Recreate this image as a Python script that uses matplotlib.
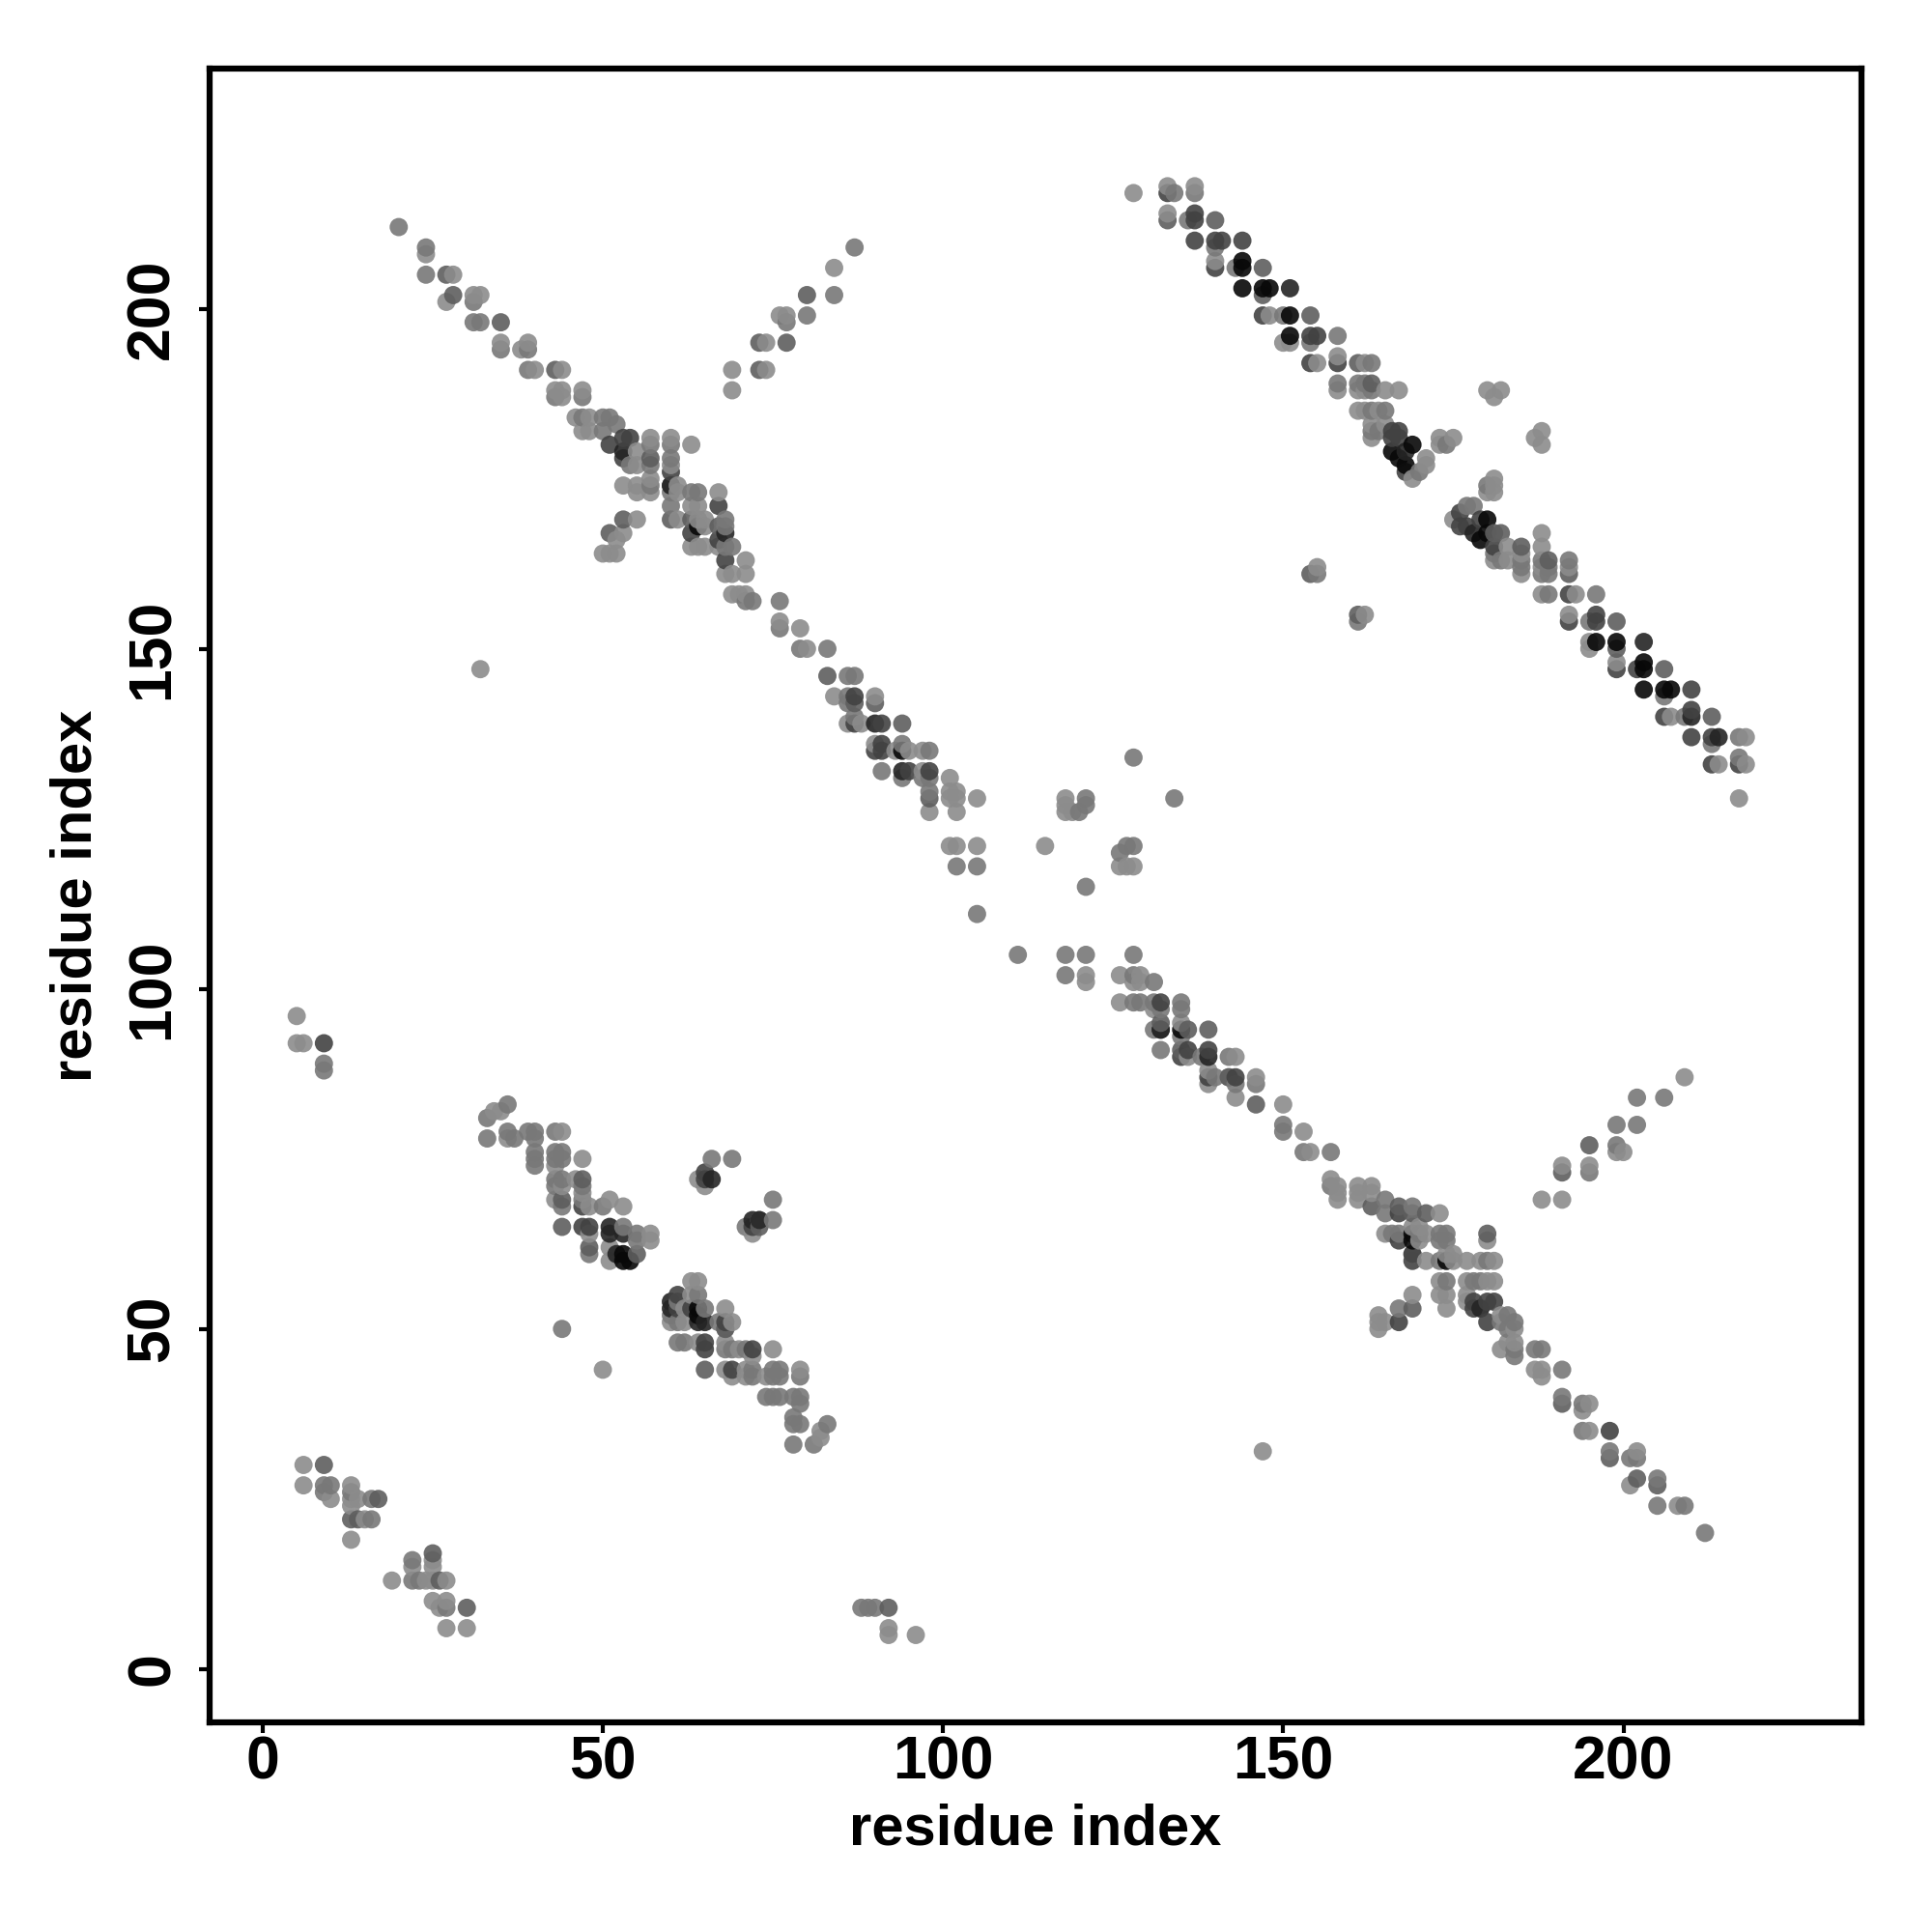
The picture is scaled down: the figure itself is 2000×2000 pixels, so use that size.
import numpy as np
import matplotlib
matplotlib.use('Agg')
import matplotlib.pyplot as plt

plt.rcParams['font.family'] = ['Liberation Sans', 'DejaVu Sans']

# contacts (i, j) grouped by how dark the dot is
light = [
    (128,217),(133,218),(137,218),(133,214),(140,207),(150,195),(151,195),(148,199),(155,192),(158,193),(162,192),
    (158,188),(161,188),(162,188),(165,188),(167,188),(161,185),(162,185),(163,183),(163,181),(165,183),(164,185),
    (171,178),(171,177),(169,175),(173,181),(173,180),(175,181),(188,182),(187,181),(188,180),(180,188),(181,187),
    (182,188),(181,175),(181,174),(181,173),(180,173),(175,169),(183,163),(183,165),(185,164),(185,161),(188,167),
    (188,165),(188,162),(192,162),(188,158),(193,158),(162,155),(192,155),(195,151),(195,150),(199,148),(207,140),
    (218,137),(214,133),(218,133),(217,128),(155,162),(181,163),
    (24,208),(28,205),(27,201),(31,202),(32,202),(35,195),(38,194),(39,195),(40,191),(44,191),(43,188),(44,188),
    (44,187),(47,188),(46,184),(48,184),(47,182),(48,182),(55,179),(55,177),(57,181),(57,175),(57,173),(60,181),
    (60,177),(61,169),(63,180),(53,174),(55,174),(55,173),(63,171),(64,171),(64,165),(65,165),(63,165),(67,173),
    (67,165),(71,163),(71,161),(69,161),(55,169),(53,167),(52,166),(50,164),(51,164),(52,164),(68,161),(69,158),
    (71,158),(70,158),(76,154),(79,153),(80,150),(84,143),(90,143),(86,139),(88,139),(90,136),(93,135),(95,135),
    (97,135),(97,132),(98,126),(101,131),(101,129),(101,128),(102,129),(102,128),(102,126),(105,128),(101,121),
    (102,121),(105,121),(115,121),(118,128),(118,127),(118,126),(119,126),(126,118),(127,118),(128,118),
    (84,206),(76,199),(77,199),(74,195),(74,191),(69,191),(69,188),
    (121,102),(121,101),(126,102),(129,102),(128,101),(129,101),(126,98),(131,97),(135,95),(136,90),(143,90),
    (139,88),(139,86),(146,87),(143,84),(150,83),(153,79),(154,76),(157,72),(158,71),(158,70),(158,69),(161,71),
    (161,70),(161,69),(163,71),(163,70),(165,64),(171,64),(173,67),(180,63),(171,60),(175,60),(177,60),(179,60),
    (181,60),(173,57),(177,57),(180,57),(181,57),(173,55),(174,55),(174,53),(169,55),(164,52),(164,51),(164,50),
    (165,51),(177,55),(177,54),(182,52),(184,50),(182,47),(183,48),(184,48),(187,44),(188,44),(188,43),(194,38),
    (195,39),(195,35),(202,32),(201,27),(208,24),(188,69),(191,69),(191,74),(195,74),(199,76),(200,76),(209,87),
    (34,82),(35,82),(36,78),(44,79),(43,74),(47,75),(46,72),(44,71),(47,70),(43,69),(48,68),(51,69),(53,68),
    (48,64),(57,64),(57,63),(51,62),(51,60),(64,72),(65,71),(72,64),(50,44),
    (63,57),(64,57),(63,55),(60,51),(62,53),(62,51),(68,53),(69,51),(64,48),(68,48),(70,47),(75,47),(72,46),
    (68,44),(71,44),(79,44),(69,43),(71,43),(74,43),(82,35),(82,34),
    (6,30),(6,27),(10,25),(13,27),(13,25),(13,24),(14,25),(15,22),(13,19),(19,13),(22,15),(24,13),(25,16),(25,15),
    (25,13),(27,13),(25,10),(26,9),(27,10),(27,6),(30,6),(6,92),(5,92),(5,96),(32,147),(147,32),(96,5),(92,5),(92,6),
    # lighter dots sitting over the dark ones in the two crossings
    (65,169),(65,168),(64,169),(61,174),(61,173),(174,61),(175,61),(170,63),(169,65),(170,65),
]
mid = [
    (134,217),(137,217),(136,213),(140,209),(143,206),(150,199),(158,196),(154,195),(163,192),(158,189),(161,189),
    (162,189),(163,188),(163,185),(165,185),(163,182),(164,182),(170,176),(177,171),(178,171),(174,180),(180,174),
    (181,164),(182,163),(185,163),(185,162),(188,163),(188,161),(189,162),(189,161),(192,163),(189,158),(196,158),
    (161,154),(195,154),(206,143),(209,140),(217,137),(213,136),(217,134),(155,161),
    (20,212),(24,209),(24,205),(31,201),(31,198),(32,198),(35,194),(39,194),(39,191),(43,187),(47,187),(47,184),
    (50,184),(51,184),(52,183),(50,182),(54,177),(57,180),(57,177),(57,174),(60,180),(60,178),(60,173),(60,171),
    (63,173),(64,173),(68,169),(68,168),(68,165),(69,165),(76,157),(76,153),(79,150),(83,150),(86,146),(87,146),
    (71,157),(72,157),(86,143),(86,142),(87,140),(91,132),(94,136),(94,131),(98,131),(97,131),(98,135),(98,129),
    (105,118),(102,118),(121,128),(121,127),(120,126),(127,121),(128,121),(126,120),(128,134),(134,128),(121,115),
    (105,111),(111,105),(118,105),(121,105),(128,105),(118,102),(128,102),(131,101),(87,209),(84,202),(80,199),(77,198),
    (128,98),(129,98),(131,98),(132,97),(135,98),(135,97),(131,94),(135,93),(132,91),(138,90),(142,90),(140,87),
    (142,87),(143,86),(146,86),(150,80),(150,79),(153,76),(157,76),(157,71),(165,69),(165,67),(166,64),(167,64),
    (169,68),(170,64),(173,64),(174,64),(173,63),(174,63),(169,61),(173,60),(180,60),(174,57),(178,57),(179,57),
    (167,53),(183,52),(184,51),(182,51),(183,50),(184,47),(184,46),(187,47),(188,47),(191,44),(191,40),(194,39),
    (194,35),(198,32),(201,31),(202,31),(205,28),(205,24),(209,24),(212,20),(195,73),(199,77),(199,80),(202,80),
    (202,84),(206,84),
    (36,83),(33,81),(33,78),(36,79),(37,78),(39,79),(40,79),(40,78),(40,76),(40,75),(40,74),(43,79),(43,76),(44,76),
    (43,75),(44,75),(43,72),(44,72),(43,71),(47,71),(44,68),(47,69),(50,68),(53,65),(55,64),(55,63),(48,61),
    (66,75),(69,75),(75,69),(75,66),(73,66),(71,65),(44,50),(64,55),(60,52),(65,53),(67,51),(68,50),(61,48),(62,48),
    (68,47),(69,47),(71,47),(72,44),(75,44),(76,44),(79,43),(72,43),(75,43),(76,43),(74,40),(75,40),(76,40),(78,40),
    (79,40),(79,39),(78,37),(78,36),(79,36),(83,36),(81,33),(78,33),(61,51),(61,54),
    (9,27),(10,27),(9,26),(13,26),(16,25),(16,22),(22,16),(22,13),(23,13),(27,9),(9,89),(9,88),(88,9),(89,9),(90,9),
]
dim = [
    (133,213),(140,213),(147,206),(147,202),(154,199),(161,192),(163,189),(181,167),(182,167),(185,165),(189,163),
    (192,161),(161,155),(199,154),(199,150),(206,147),(213,140),(154,161),
    (27,205),(28,202),(60,174),(57,178),(60,169),(63,169),(67,168),(53,169),(51,167),(83,146),(87,142),(90,142),
    (94,139),(98,128),(80,202),(77,195),(73,195),(73,191),(43,191),(35,198),
    (132,95),(136,94),(139,94),(135,91),(142,87),(146,83),(163,68),(167,68),(171,67),(169,67),(180,64),(169,53),
    (191,73),(191,39),(198,31),(205,27),(202,28),(195,77),
    (47,72),(44,69),(44,65),(48,62),(55,61),(73,65),(65,44),(68,50),(30,9),(26,13),(17,25),(9,30),(25,17),(14,22),(13,22),
    (92,9),
]
dark = [
    (133,217),(137,214),(137,213),(137,210),(140,210),(141,210),(144,210),(140,206),(147,199),(154,196),(155,196),
    (154,192),(158,192),(166,182),(167,182),(166,181),(167,181),(168,176),(176,170),(176,168),(177,168),(179,169),
    (181,165),(192,154),(192,158),(196,155),(196,154),(199,147),(202,147),(210,141),(206,140),(210,137),(213,137),
    (213,133),(217,133),(210,144),
    (51,180),(53,181),(54,181),(53,178),(60,176),(63,167),(67,171),(67,166),(68,163),(91,139),(91,136),(90,135),
    (91,135),(95,132),(98,132),(87,143),(87,139),(132,98),(132,94),(136,91),(135,90),(139,91),(139,87),(143,87),
    (198,35),(167,67),(167,63),(178,54),(178,53),(180,54),(181,54),(180,51),(167,51),(169,60),(47,68),(47,65),(48,65),
    (65,73),(65,72),(72,65),(61,55),(61,53),(63,53),(65,48),(65,47),(68,51),(69,44),(72,47),(9,92),(169,61),
]
very_dark = [
    (151,203),(203,151),(214,137),(210,140),(168,179),(178,167),(53,179),(60,174),(68,167),(90,139),(94,132),(132,94),
    (139,90),(179,53),(51,65),(51,64),(52,61),(66,72),(72,66),(60,54),(60,53),(64,51),(65,51),(53,64),(73,66),
]
black = [
    (144,207),(144,206),(144,203),(147,203),(148,203),(151,199),(151,196),(166,179),(167,178),(168,177),(169,180),
    (180,169),(179,166),(180,167),(196,151),(199,151),(203,148),(203,147),(203,144),(206,144),(207,144),
    (64,168),(94,135),(135,94),(169,64),(169,63),(174,60),(53,61),(53,60),(54,60),(64,53),(64,52),
]

groups = [light, mid, dim, dark, very_dark, black]
shades = [0.55, 0.47, 0.37, 0.26, 0.14, 0.03]

xs, ys, gs = [], [], []
for pts, g in zip(groups, shades):
    for p in pts:
        xs.append(p[0])
        ys.append(p[1])
        gs.append(g)
xs = np.array(xs)
ys = np.array(ys)
gs = np.array(gs)

# loop order of the contact table: later residues are painted on top
order = np.lexsort((ys, xs))
colors = [(g, g, g, 0.9) for g in gs[order]]

ticks = [0, 50, 100, 150, 200]

fig = plt.figure(figsize=(20, 20), dpi=100)
ax = fig.add_axes([0.1085, 0.1085, 0.855, 0.856])
ax.scatter(xs[order], ys[order], s=185, c=colors, linewidths=0)
ax.set_xlim(-7.8, 235.0)
ax.set_ylim(-7.85, 235.3)
ax.set_xticks(ticks)
ax.set_yticks(ticks)
ax.tick_params(axis='x', length=8, width=3, labelsize=45, pad=1)
ax.tick_params(axis='y', length=8, width=3, labelsize=45, pad=13)
for lab in ax.get_xticklabels():
    lab.set_fontweight('bold')
for lab in ax.get_yticklabels():
    lab.set_fontweight('bold')
    lab.set_rotation(90)
    lab.set_va('center')
for s in ax.spines.values():
    s.set_linewidth(4.5)
ax.set_xlabel('residue index', fontsize=43, fontweight='bold', labelpad=9)
ax.set_ylabel('residue index', fontsize=43, fontweight='bold', labelpad=16)
fig.savefig('out.png', dpi=100, facecolor='white')
